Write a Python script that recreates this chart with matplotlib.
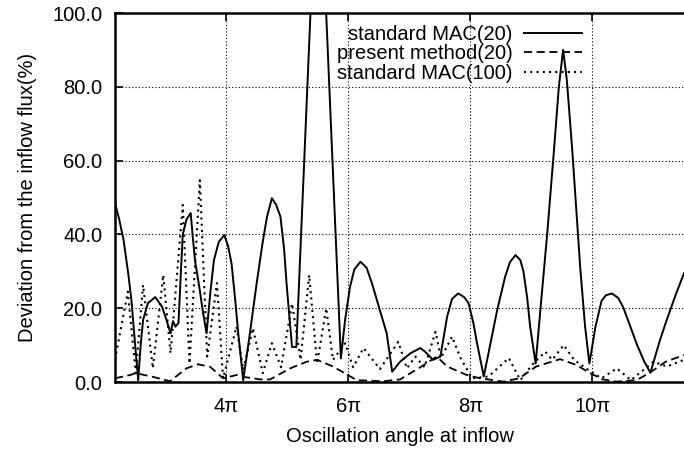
import matplotlib
matplotlib.use("Agg")
import matplotlib.pyplot as plt
import numpy as np

plt.rcParams['font.family'] = ['Liberation Sans', 'DejaVu Sans']

# x values are multiples of pi
mac20_x = [2.18, 2.25, 2.32, 2.4, 2.45, 2.5, 2.56, 2.6, 2.64, 2.72, 2.84, 2.95,
           3.02, 3.09, 3.13, 3.17, 3.22, 3.26, 3.29, 3.35, 3.42, 3.45, 3.49,
           3.56, 3.62, 3.68, 3.74, 3.8, 3.88, 3.97, 4.03, 4.09, 4.15, 4.2,
           4.28, 4.38, 4.5, 4.6, 4.67, 4.75, 4.82, 4.89, 4.95, 4.99, 5.04,
           5.08, 5.15, 5.51, 5.88, 5.95, 6.03, 6.1, 6.2, 6.3, 6.39, 6.5,
           6.63, 6.72, 6.85, 7.02, 7.1, 7.18, 7.26, 7.39, 7.51, 7.62, 7.7,
           7.8, 7.9, 7.97, 8.05, 8.11, 8.22, 8.3, 8.44, 8.57, 8.65, 8.74,
           8.82, 8.87, 8.93, 8.98, 9.07, 9.15, 9.26, 9.37, 9.45, 9.52, 9.58,
           9.67, 9.8, 9.88, 9.95, 10.05, 10.15, 10.22, 10.32, 10.42, 10.5,
           10.6, 10.72, 10.85, 10.95, 11.1, 11.2, 11.35, 11.5]
mac20_y = [48.5, 44.0, 38.5, 29.0, 22.0, 12.0, 0.5, 10.0, 16.8, 21.4, 23.0, 20.4,
           17.0, 13.2, 16.5, 15.0, 16.0, 30.0, 40.0, 44.0, 45.8, 40.0, 33.0,
           25.8, 19.0, 13.2, 24.0, 33.0, 38.0, 39.8, 37.0, 32.0, 22.0, 13.0,
           0.5, 12.0, 26.7, 38.0, 44.8, 49.8, 48.0, 44.8, 36.0, 26.7, 17.0,
           9.5, 9.5, 150.0, 6.4, 17.0, 25.8, 30.5, 32.6, 31.0, 26.7, 20.5,
           13.2, 2.8, 5.5, 7.8, 8.5, 9.2, 8.2, 6.0, 6.9, 17.7, 22.5,
           24.0, 23.0, 21.4, 16.0, 10.5, 1.5, 8.0, 19.5, 28.5, 32.5, 34.4,
           33.0, 30.0, 23.0, 15.0, 5.0, 20.0, 40.3, 62.8, 80.0, 90.0, 82.0,
           62.8, 31.0, 15.0, 5.0, 15.0, 22.0, 23.5, 24.0, 22.8, 20.4,
           16.0, 10.5, 5.5, 2.5, 11.0, 16.0, 23.0, 29.5]

present20_x = [2.18, 2.43, 2.52, 2.8, 3.08, 3.35, 3.54, 3.74, 3.95, 4.17, 4.28,
               4.56, 4.72, 5.05, 5.32, 5.49, 5.75, 5.95, 6.14, 6.57, 6.85,
               7.2, 7.45, 7.62, 7.94, 8.16, 8.38, 8.54, 8.8, 9.08, 9.47,
               9.74, 9.95, 10.17, 10.4, 10.72, 10.93, 11.2, 11.5]
present20_y = [1.0, 1.9, 2.4, 1.4, 0.2, 3.7, 4.8, 4.1, 1.0, 1.9, 1.4,
               0.7, 0.7, 3.7, 5.5, 6.0, 4.2, 2.3, 0.5, 0.2, 0.7,
               4.2, 6.9, 4.2, 1.9, 1.0, 0.5, 0.1, 1.0, 4.2, 6.2,
               4.6, 2.5, 0.7, 0.1, 0.5, 2.4, 5.5, 7.3]

mac100_x = [2.18, 2.39, 2.52, 2.64, 2.8, 2.97, 3.09, 3.29, 3.4, 3.57, 3.69,
            3.85, 3.95, 4.17, 4.28, 4.44, 4.6, 4.75, 4.9, 5.08, 5.22, 5.36,
            5.49, 5.64, 5.75, 5.95, 6.08, 6.25, 6.52, 6.82, 6.96, 7.1,
            7.25, 7.43, 7.52, 7.7, 7.84, 8.03, 8.3, 8.63, 8.82, 9.03,
            9.23, 9.34, 9.53, 9.7, 9.93, 10.15, 10.4, 10.63, 11.0, 11.22,
            11.5]
mac100_y = [6.0, 24.5, 2.4, 26.3, 3.7, 29.0, 7.8, 48.0, 5.0, 54.7, 6.9,
            26.8, 1.0, 15.0, 3.3, 14.6, 2.4, 10.5, 4.0, 21.3, 6.0, 29.0,
            5.0, 20.0, 6.0, 10.5, 4.0, 9.2, 3.5, 10.9, 3.7, 6.9,
            4.0, 13.6, 6.5, 12.3, 6.5, 1.0, 1.5, 6.5, 0.5, 5.0,
            8.2, 6.0, 10.0, 6.0, 3.3, 1.0, 3.7, 0.5, 5.5, 4.2,
            6.0]

tick_pos = [4, 6, 8, 10]
tick_labels = ['4π', '6π', '8π', '10π']
ytick_pos = [0, 20, 40, 60, 80, 100]
ytick_labels = ['0.0', '20.0', '40.0', '60.0', '80.0', '100.0']

fig = plt.figure(figsize=(6.84, 4.5), dpi=100)
ax = fig.add_axes([115 / 684, 1 - 382 / 450, 1 - 115 / 684, (382 - 13) / 450])

ax.plot(mac20_x, mac20_y, color='black', lw=1.4, ls='-', label='standard MAC(20)')
ax.plot(present20_x, present20_y, color='black', lw=1.3, ls=(0, (4.5, 2.5)),
        label='present method(20)')
ax.plot(mac100_x, mac100_y, color='black', lw=1.5, ls=(0, (1, 2)),
        label='standard MAC(100)')

ax.set_xlim(2.18, 11.5)
ax.set_ylim(0, 100)
ax.set_xticks(tick_pos)
ax.set_xticklabels(tick_labels)
ax.set_yticks(ytick_pos)
ax.set_yticklabels(ytick_labels)
ax.tick_params(direction='in', length=6, width=1.2, labelsize=14.5, top=True)
ax.tick_params(axis='x', pad=11)
ax.tick_params(axis='y', pad=9)
ax.grid(True, color='black', ls=(0, (1, 2)), lw=0.8)
ax.spines['right'].set_visible(False)
for s in ['left', 'bottom', 'top']:
    ax.spines[s].set_linewidth(1.8)

ax.set_xlabel('Oscillation angle at inflow', fontsize=14.5, labelpad=8)
ax.set_ylabel('Deviation from the inflow flux(%)', fontsize=14.5, labelpad=11)

ax.legend(loc='upper right', bbox_to_anchor=(582 / 684, 1 - 25 / 450),
          bbox_transform=fig.transFigure, frameon=False, markerfirst=False,
          fontsize=14.5, handlelength=2.9, handletextpad=0.55, labelspacing=0.02,
          borderpad=0, borderaxespad=0)

fig.savefig('out.png', dpi=100)
